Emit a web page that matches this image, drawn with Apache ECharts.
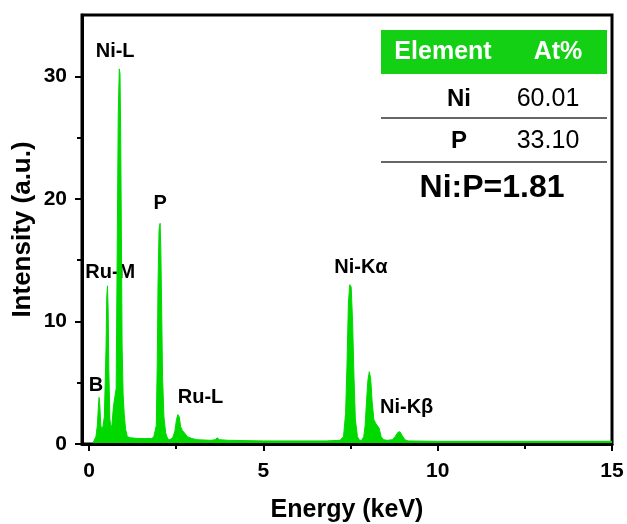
<!DOCTYPE html>
<html lang="en">
<head>
    <meta charset="UTF-8">
    <script src="https://cdn.jsdelivr.net/npm/echarts@6/dist/echarts.min.js"></script>
    <title>EDS</title>
    <style>
        html, body { margin: 0; padding: 0; background: #fff; }
        #chart { width: 627px; height: 524px; }
    </style>
</head>
<body>
    <div id="chart"></div>
    <script>
        // 能谱数据 (keV, 强度)
        var energy = [0.10, 0.15, 0.20, 0.24, 0.27, 0.29, 0.31, 0.34, 0.37, 0.40,
            0.44, 0.47, 0.49, 0.51, 0.53, 0.55, 0.57, 0.60, 0.63, 0.66,
            0.70, 0.74, 0.78, 0.81, 0.84, 0.87, 0.89, 0.91, 0.93, 0.95,
            0.98, 1.01, 1.05, 1.10, 1.20, 1.40, 1.60, 1.80, 1.86, 1.90,
            1.93, 1.96, 1.98, 2.01, 2.04, 2.06, 2.08, 2.11, 2.15, 2.20,
            2.26, 2.32, 2.40, 2.46, 2.51, 2.55, 2.59, 2.63, 2.68, 2.74,
            2.82, 2.95, 3.10, 3.50, 3.62, 3.68, 3.74, 4.00, 5.00, 6.00,
            6.80, 7.20, 7.30, 7.36, 7.40, 7.44, 7.48, 7.52, 7.56, 7.60,
            7.64, 7.70, 7.76, 7.82, 7.88, 7.92, 7.96, 8.00, 8.04, 8.08,
            8.12, 8.17, 8.22, 8.27, 8.32, 8.38, 8.45, 8.55, 8.70, 8.78,
            8.86, 8.92, 8.98, 9.06, 9.15, 10.0, 12.0, 15.0];
        var intensity = [0, 0.1, 0.6, 1.5, 3.0, 3.8, 3.2, 1.5, 1.2, 1.4,
            2.2, 5.5, 8.0, 12.0, 12.9, 11.0, 6.0, 2.0, 1.3, 1.6,
            3.0, 3.8, 4.5, 16.0, 27.0, 30.6, 30.2, 25.0, 17.0, 8.0,
            4.0, 2.5, 1.2, 0.6, 0.5, 0.45, 0.45, 0.45, 0.6, 0.5,
            1.5, 7.0, 13.0, 17.5, 18.0, 16.0, 12.0, 5.5, 2.2, 0.9,
            0.4, 0.35, 0.5, 1.0, 2.0, 2.4, 2.2, 1.4, 1.1, 0.9,
            0.6, 0.45, 0.35, 0.3, 0.35, 0.5, 0.35, 0.3, 0.25, 0.25,
            0.25, 0.3, 0.6, 2.5, 6.5, 11.5, 13.0, 12.8, 10.0, 5.5,
            2.0, 0.6, 0.3, 0.3, 0.6, 1.5, 3.5, 5.2, 5.9, 5.3,
            3.5, 2.0, 1.7, 1.8, 1.3, 0.6, 0.35, 0.3, 0.35, 0.6,
            0.95, 1.0, 0.7, 0.35, 0.25, 0.22, 0.22, 0.22];

        // 峰标注
        var peakNames = ['Ni-L', 'P', 'Ru-M', 'B', 'Ru-L', 'Ni-Kα', 'Ni-Kβ'];
        var peakX = [0.75, 2.04, 0.61, 0.20, 3.20, 7.80, 9.11];
        var peakY = [32.0, 19.6, 14.0, 4.8, 3.8, 14.4, 3.0];

        // 坐标轴刻度
        var xTicks = [0, 5, 10, 15];
        var xMinorTicks = [2.5, 7.5, 12.5];
        var yTicks = [0, 10, 20, 30];
        var yMinorTicks = [5, 15, 25];

        // 表格
        var tableHeader = ['Element', 'At%'];
        var tableElements = ['Ni', 'P'];
        var tableAt = ['60.01', '33.10'];
        var ratioText = 'Ni:P=1.81';

        var green = '#00d900';
        var font = 'Liberation Sans, Arial, sans-serif';

        var spectrum = [];
        for (var i = 0; i < energy.length; i++) {
            spectrum.push([energy[i], intensity[i]]);
        }
        var peaks = [];
        for (var j = 0; j < peakNames.length; j++) {
            peaks.push({ name: peakNames[j], value: [peakX[j], peakY[j]] });
        }

        // 表格图形
        var graphics = [{
            type: 'rect',
            shape: { x: 381, y: 30, width: 226, height: 44 },
            style: { fill: '#14d014' }
        }, {
            type: 'text', x: 443, y: 52,
            style: { text: tableHeader[0], fill: '#fff', font: 'bold 25px ' + font, align: 'center', verticalAlign: 'middle' }
        }, {
            type: 'text', x: 558, y: 52,
            style: { text: tableHeader[1], fill: '#fff', font: 'bold 25px ' + font, align: 'center', verticalAlign: 'middle' }
        }];
        var rowY = [99, 141];
        var lineY = [118, 162];
        for (var k = 0; k < tableElements.length; k++) {
            graphics.push({
                type: 'text', x: 459, y: rowY[k],
                style: { text: tableElements[k], fill: '#000', font: 'bold 24px ' + font, align: 'center', verticalAlign: 'middle' }
            });
            graphics.push({
                type: 'text', x: 548, y: rowY[k],
                style: { text: tableAt[k], fill: '#000', font: '25px ' + font, align: 'center', verticalAlign: 'middle' }
            });
            graphics.push({
                type: 'line',
                shape: { x1: 381, y1: lineY[k], x2: 607, y2: lineY[k] },
                style: { stroke: '#333', lineWidth: 1.5 }
            });
        }
        graphics.push({
            type: 'text', x: 492, y: 188,
            style: { text: ratioText, fill: '#000', font: 'bold 32px ' + font, align: 'center', verticalAlign: 'middle' }
        });

        var myChart = echarts.init(document.getElementById('chart'));
        var option = {
            animation: false,
            backgroundColor: '#fff',
            grid: {
                left: 82, right: 15, top: 15, bottom: 80,
                outerBoundsMode: 'none',
                show: true, borderColor: '#000', borderWidth: 3
            },
            xAxis: [{
                type: 'value', min: -0.2, max: 15, z: 5,
                name: 'Energy (keV)', nameLocation: 'middle', nameGap: 54, nameMoveOverlap: false,
                nameTextStyle: { fontSize: 25, fontWeight: 'bold', color: '#000', fontFamily: font },
                axisLine: { onZero: false, lineStyle: { color: '#000', width: 3 } },
                axisTick: { customValues: xTicks, length: 7, lineStyle: { color: '#000', width: 2 } },
                axisLabel: { customValues: xTicks, margin: 17, fontSize: 21, fontWeight: 'bold', color: '#000', fontFamily: font },
                splitLine: { show: false }
            }, {
                type: 'value', min: -0.2, max: 15, position: 'bottom', z: 5,
                axisLine: { show: false, onZero: false },
                axisTick: { customValues: xMinorTicks, length: 5, lineStyle: { color: '#000', width: 2 } },
                axisLabel: { show: false },
                splitLine: { show: false }
            }],
            yAxis: [{
                type: 'value', min: 0, max: 35, z: 5,
                name: 'Intensity (a.u.)', nameLocation: 'middle', nameGap: 46, nameMoveOverlap: false,
                nameTextStyle: { fontSize: 26, fontWeight: 'bold', color: '#000', fontFamily: font },
                axisLine: { onZero: false, lineStyle: { color: '#000', width: 3 } },
                axisTick: { customValues: yTicks, length: 7, lineStyle: { color: '#000', width: 2 } },
                axisLabel: { customValues: yTicks, margin: 15, fontSize: 21, fontWeight: 'bold', color: '#000', fontFamily: font },
                splitLine: { show: false }
            }, {
                type: 'value', min: 0, max: 35, position: 'left', z: 5,
                axisLine: { show: false, onZero: false },
                axisTick: { customValues: yMinorTicks, length: 5, lineStyle: { color: '#000', width: 2 } },
                axisLabel: { show: false },
                splitLine: { show: false }
            }],
            series: [{
                type: 'line',
                data: spectrum,
                symbol: 'none',
                lineStyle: { color: green, width: 1 },
                areaStyle: { color: green, opacity: 1 },
                silent: true
            }, {
                type: 'scatter',
                data: peaks,
                symbolSize: 1,
                itemStyle: { color: 'rgba(0,0,0,0)', opacity: 1 },
                label: {
                    show: true, position: 'inside', formatter: '{b}',
                    fontSize: 20, fontWeight: 'bold', color: '#000', fontFamily: font
                },
                silent: true
            }],
            graphic: graphics
        };
        myChart.setOption(option);
    </script>
</body>
</html>
